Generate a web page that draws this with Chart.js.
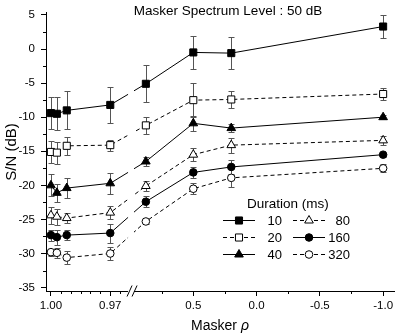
<!DOCTYPE html>
<html>
<head>
<meta charset="utf-8">
<script src="https://cdn.jsdelivr.net/npm/chart.js@4"></script>
<style>
  html, body { margin: 0; padding: 0; background: #fff; }
  #wrap { width: 400px; height: 335px; }
</style>
</head>
<body>
<div id="wrap"><canvas id="chart" width="400" height="335"></canvas></div>
<script>
// ---- data ------------------------------------------------------------
var rhoValues = [1.0, 0.997, 0.992, 0.97, 0.875, 0.5, 0.2, -1.0];
var durations = ['10', '20', '40', '80', '160', '320'];

var sn10  = [-9.4, -9.5, -9.0, -8.2, -5.1, -0.5, -0.6, 3.3];
var sn20  = [-15.1, -15.2, -14.2, -14.1, -11.2, -7.5, -7.4, -6.6];
var sn40  = [-20.0, -21.1, -20.4, -19.7, -16.5, -10.9, -11.6, -10.0];
var sn80  = [-24.4, -24.6, -24.8, -24.0, -20.1, -15.5, -14.1, -13.4];
var sn160 = [-27.3, -27.6, -27.3, -27.0, -22.4, -18.1, -17.3, -15.5];
var sn320 = [-29.8, -29.9, -30.6, -30.0, -25.3, -20.5, -18.9, -17.5];

var err10  = [2.4, 2.4, 2.8, 2.7, 2.7, 2.4, 2.3, 1.7];
var err20  = [1.6, 1.6, 1.3, 0.8, 1.3, 2.5, 1.2, 0.95];
var err40  = [1.6, 1.3, 1.5, 1.5, 0.7, 1.1, 0.6, 0.3];
var err80  = [1.2, 1.2, 0.7, 0.95, 0.7, 1.0, 1.1, 0.7];
var err160 = [0.8, 1.1, 0.7, 1.4, 0.8, 0.8, 1.0, 0.3];
var err320 = [0.5, 0.7, 1.0, 1.0, 0.4, 0.8, 1.4, 0.6];

var xTickRho    = [1.00, 0.97, 0.5, 0.0, -0.5, -1.0];
var xTickLabels = ['1.00', '0.97', '0.5', '0.0', '-0.5', '-1.0'];
var xMinorRho   = [0.995, 0.99, 0.985, 0.98, 0.975, 0.965, 0.75, 0.25, -0.25, -0.75];
var yTicks      = [5, 0, -5, -10, -15, -20, -25, -30, -35];
var yMinor      = [2.5, -2.5, -7.5, -12.5, -17.5, -22.5, -27.5, -32.5];

// broken x axis: rho near 1 is stretched, the rest is compressed
function axisPos(rho) {
  if (rho >= 0.962) return (1.0 - rho) * 2000;
  return 144 + (0.5 - rho) * 128;
}

var FONT = "'Liberation Sans', Arial, sans-serif";

var styles = [
  { pt: 'rect',     fill: '#000', dash: [],     r: 5 },
  { pt: 'rect',     fill: '#fff', dash: [4, 3], r: 5 },
  { pt: 'triangle', fill: '#000', dash: [],     r: 5 },
  { pt: 'triangle', fill: '#fff', dash: [4, 3], r: 5 },
  { pt: 'circle',   fill: '#000', dash: [],     r: 3.8 },
  { pt: 'circle',   fill: '#fff', dash: [4, 3], r: 3.8 }
];
var seriesVals = [sn10, sn20, sn40, sn80, sn160, sn320];
var seriesErr  = [err10, err20, err40, err80, err160, err320];

var datasets = seriesVals.map(function (vals, i) {
  var s = styles[i];
  return {
    label: durations[i],
    data: vals.map(function (v, j) { return { x: axisPos(rhoValues[j]), y: v }; }),
    errors: seriesErr[i],
    borderColor: '#000',
    borderWidth: 1,
    borderDash: s.dash,
    tension: 0,
    pointStyle: s.pt,
    pointRadius: s.r,
    pointHoverRadius: s.r,
    pointBackgroundColor: s.fill,
    pointBorderColor: '#000',
    pointBorderWidth: 1
  };
});

/* error bars under the markers ------------------------------------ */
var errorBars = {
  id: 'errorBars',
  beforeDatasetsDraw: function (chart) {
    var ctx = chart.ctx, xs = chart.scales.x, ys = chart.scales.y;
    ctx.save();
    ctx.strokeStyle = '#555';
    ctx.lineWidth = 1;
    chart.data.datasets.forEach(function (ds) {
      ds.data.forEach(function (p, j) {
        var e = ds.errors[j];
        var px = Math.round(xs.getPixelForValue(p.x)) + 0.5;
        var y1 = Math.round(ys.getPixelForValue(p.y + e)) + 0.5;
        var y2 = Math.round(ys.getPixelForValue(p.y - e)) + 0.5;
        ctx.beginPath();
        ctx.moveTo(px, y1); ctx.lineTo(px, y2);
        ctx.moveTo(px - 3, y1); ctx.lineTo(px + 3, y1);
        ctx.moveTo(px - 3, y2); ctx.lineTo(px + 3, y2);
        ctx.stroke();
      });
    });
    ctx.restore();
  }
};

/* axis break, minor ticks, title, legend ---------------------------- */
var decorations = {
  id: 'decorations',
  afterDatasetsDraw: function (chart) {
    var ctx = chart.ctx, xs = chart.scales.x, a = chart.chartArea;
    var b1 = xs.getPixelForValue(78), b2 = xs.getPixelForValue(84);
    ctx.save();
    ctx.fillStyle = '#fff';
    ctx.fillRect(b1, a.top, b2 - b1, a.bottom - a.top + 2);
    ctx.strokeStyle = '#000';
    ctx.lineWidth = 1;
    ctx.beginPath();
    ctx.moveTo(b1 - 1, a.bottom + 5.5); ctx.lineTo(b1 + 4, a.bottom - 5.5);
    ctx.moveTo(b1 + 4, a.bottom + 5.5); ctx.lineTo(b1 + 9, a.bottom - 5.5);
    ctx.stroke();
    ctx.restore();
  },
  afterDraw: function (chart) {
    var ctx = chart.ctx, xs = chart.scales.x, ys = chart.scales.y, a = chart.chartArea;
    ctx.save();
    ctx.strokeStyle = '#000';
    ctx.lineWidth = 1;
    ctx.beginPath();
    xMinorRho.forEach(function (r) {
      var px = Math.round(xs.getPixelForValue(axisPos(r))) + 0.5;
      ctx.moveTo(px, a.bottom); ctx.lineTo(px, a.bottom + 3);
    });
    yMinor.forEach(function (v) {
      var py = Math.round(ys.getPixelForValue(v)) + 0.5;
      ctx.moveTo(a.left - 3, py); ctx.lineTo(a.left, py);
    });
    ctx.stroke();

    ctx.fillStyle = '#000';
    ctx.textBaseline = 'middle';

    // x axis title with italic rho
    var cx = (a.left + a.right) / 2;
    ctx.font = '14px ' + FONT;
    var w1 = ctx.measureText('Masker ').width;
    ctx.font = 'italic 14px ' + FONT;
    var w2 = ctx.measureText('ρ').width;
    var x0 = cx - (w1 + w2) / 2;
    ctx.textAlign = 'left';
    ctx.font = '14px ' + FONT;
    ctx.fillText('Masker ', x0, 326);
    ctx.font = 'italic 14px ' + FONT;
    ctx.fillText('ρ', x0 + w1, 326);

    // title inside the plot
    ctx.font = '13.5px ' + FONT;
    ctx.textAlign = 'center';
    ctx.fillText('Masker Spectrum Level : 50 dB', 228, 11);

    // legend
    ctx.textAlign = 'left';
    ctx.font = '13.5px ' + FONT;
    ctx.fillText('Duration (ms)', 247, 204);
    ctx.font = '13px ' + FONT;
    var cols = [{ l0: 223, l1: 255, m: 239, txt: 282 }, { l0: 293, l1: 325, m: 309, txt: 350 }];
    chart.data.datasets.forEach(function (ds, i) {
      var c = cols[Math.floor(i / 3)];
      var y = 220 + (i % 3) * 17;
      ctx.setLineDash(ds.borderDash);
      ctx.beginPath();
      ctx.moveTo(c.l0, y + 0.5); ctx.lineTo(c.l1, y + 0.5);
      ctx.stroke();
      ctx.setLineDash([]);
      ctx.fillStyle = ds.pointBackgroundColor;
      Chart.helpers.drawPoint(ctx, {
        pointStyle: ds.pointStyle, radius: ds.pointRadius, rotation: 0, borderWidth: 1
      }, c.m, y + 0.5);
      ctx.fillStyle = '#000';
      ctx.textAlign = 'right';
      ctx.fillText(ds.label, c.txt, y + 1);
    });
    ctx.restore();
  }
};

new Chart(document.getElementById('chart'), {
  type: 'line',
  data: { datasets: datasets },
  plugins: [errorBars, decorations],
  options: {
    responsive: false,
    animation: false,
    layout: { padding: { top: 5, right: 2, left: 0, bottom: 0 } },
    plugins: { legend: { display: false }, tooltip: { enabled: false } },
    scales: {
      x: {
        type: 'linear',
        min: -5,
        max: 347,
        afterBuildTicks: function (scale) {
          scale.ticks = xTickRho.map(function (r) { return { value: axisPos(r) }; });
        },
        afterFit: function (scale) { scale.height = 44; },
        ticks: {
          autoSkip: false, maxRotation: 0, padding: 3, color: '#000',
          font: { family: FONT, size: 11.5 },
          callback: function (v, i) { return xTickLabels[i]; }
        },
        grid: { drawOnChartArea: false, tickLength: 5, tickColor: '#000', color: '#000' },
        border: { color: '#000', width: 1 }
      },
      y: {
        min: -35.5,
        max: 5.3,
        afterBuildTicks: function (scale) {
          scale.ticks = yTicks.map(function (v) { return { value: v }; });
        },
        afterFit: function (scale) { scale.width = 46; },
        ticks: {
          padding: 6, color: '#000',
          font: { family: FONT, size: 11.5 },
          callback: function (v) { return String(v); }
        },
        grid: { drawOnChartArea: false, tickLength: 5, tickColor: '#000', color: '#000' },
        border: { color: '#000', width: 1 },
        title: {
          display: true, text: 'S/N (dB)', color: '#000',
          font: { family: FONT, size: 15 }, padding: { top: 3, bottom: 0 }
        }
      }
    }
  }
});
</script>
</body>
</html>
